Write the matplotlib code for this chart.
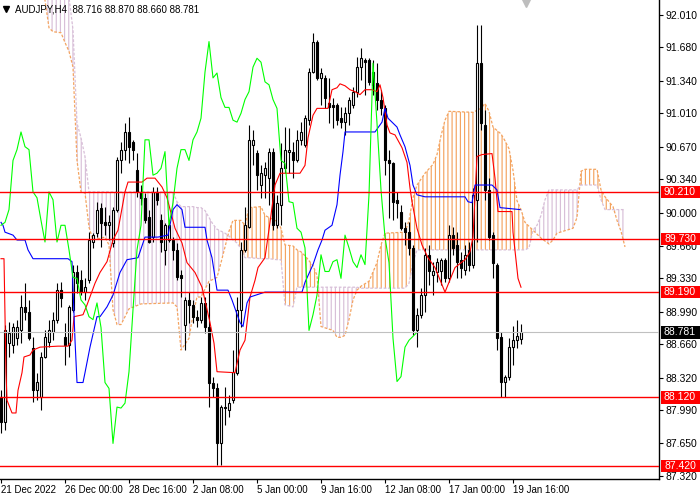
import matplotlib
matplotlib.use("Agg")
import matplotlib.pyplot as plt
import numpy as np
from matplotlib import transforms
from matplotlib.patches import Rectangle

plt.rcParams['font.family'] = ['Liberation Sans', 'DejaVu Sans']
plt.rcParams['hatch.linewidth'] = 0.85

title_text = "AUDJPY,H4  88.716 88.870 88.660 88.781"

opens = [88.12, 87.87, 88.67, 88.65, 88.72, 88.80, 89.04, 88.99, 88.62, 88.19,
         88.12, 88.53, 88.68, 88.78, 88.91, 89.21, 88.73, 88.65, 89.01, 89.39,
         89.31, 89.19, 89.31, 89.70, 89.79, 90.05, 89.90, 89.87, 89.69, 90.03,
         90.53, 90.64, 90.82, 90.72, 90.43, 90.21, 90.15, 89.95, 89.75, 90.21,
         89.92, 89.62, 89.72, 89.72, 89.62, 89.36, 88.86, 89.11, 89.06, 88.94,
         88.91, 89.08, 88.84, 88.27, 88.21, 87.65, 88.02, 87.99, 88.09, 88.37,
         89.01, 89.62, 89.85, 90.69, 90.61, 90.28, 90.38, 90.35, 90.62, 89.87,
         90.08, 90.45, 90.62, 90.62, 90.53, 90.74, 90.69, 90.94, 91.43, 91.74,
         91.37, 91.37, 91.11, 91.09, 91.09, 90.96, 90.92, 91.01, 91.09, 91.23,
         91.48, 91.55, 91.55, 91.43, 91.32, 91.15, 91.06, 90.53, 90.50, 90.13,
         90.01, 89.84, 89.80, 89.64, 88.80, 88.96, 89.16, 89.57, 89.36, 89.39,
         89.40, 89.52, 89.33, 89.77, 89.67, 89.52, 89.42, 89.62, 89.47, 90.13,
         91.52, 90.89, 90.23, 89.77, 89.47, 88.73, 88.28, 88.33, 88.63, 88.70,
         88.716]
highs = [88.19, 88.86, 88.89, 88.88, 88.91, 89.16, 89.28, 89.11, 88.73, 88.37,
         88.58, 88.80, 88.91, 88.99, 89.28, 89.29, 88.88, 89.06, 89.47, 89.47,
         89.42, 89.33, 89.80, 89.79, 90.11, 90.10, 90.06, 89.97, 90.06, 90.57,
         90.72, 90.91, 90.97, 90.74, 90.61, 90.28, 90.20, 90.03, 90.26, 90.26,
         89.99, 89.89, 89.92, 89.75, 89.69, 89.42, 89.14, 89.19, 89.11, 89.01,
         89.14, 89.14, 89.28, 88.33, 88.27, 88.04, 88.22, 88.14, 88.60, 89.14,
         89.70, 90.06, 90.89, 90.84, 90.64, 90.48, 90.51, 90.66, 90.66, 90.18,
         90.71, 90.87, 90.86, 90.72, 90.84, 90.92, 90.99, 91.47, 91.83, 91.76,
         91.47, 91.40, 91.37, 91.17, 91.11, 91.07, 91.07, 91.18, 91.28, 91.58,
         91.67, 91.57, 91.57, 91.55, 91.52, 91.25, 91.09, 90.64, 90.51, 90.21,
         90.08, 89.90, 89.90, 89.67, 89.03, 89.23, 89.64, 89.67, 89.50, 89.54,
         89.54, 89.54, 89.87, 89.85, 89.80, 89.60, 89.67, 89.70, 90.25, 91.91,
         91.91, 91.04, 90.35, 89.80, 89.49, 88.78, 88.35, 88.72, 88.85, 88.91,
         88.870]
lows = [87.76, 87.79, 88.53, 88.57, 88.65, 88.67, 88.91, 88.70, 88.07, 88.09,
        87.99, 88.52, 88.63, 88.70, 88.88, 89.04, 88.45, 88.53, 88.99, 89.18,
        89.16, 89.11, 89.28, 89.64, 89.75, 89.65, 89.77, 89.72, 89.65, 90.01,
        90.40, 90.53, 90.50, 90.53, 90.16, 90.08, 89.89, 89.69, 89.70, 90.08,
        89.60, 89.47, 89.70, 89.52, 89.31, 89.14, 88.60, 88.88, 88.88, 88.84,
        88.88, 88.77, 88.02, 88.12, 87.43, 87.43, 87.84, 87.92, 88.06, 88.35,
        88.84, 89.60, 89.84, 90.48, 90.23, 90.15, 90.15, 90.08, 89.82, 89.84,
        89.87, 90.40, 90.40, 90.35, 90.51, 90.69, 90.67, 90.89, 91.42, 91.35,
        91.09, 91.06, 90.91, 90.86, 90.89, 90.86, 90.79, 90.89, 91.06, 91.18,
        91.35, 91.20, 91.30, 91.20, 91.04, 90.99, 90.38, 89.94, 89.92, 89.94,
        89.82, 89.67, 89.57, 88.75, 88.63, 88.93, 88.99, 89.26, 89.16, 89.29,
        89.26, 89.29, 89.29, 89.57, 89.33, 89.33, 89.36, 89.40, 89.44, 89.70,
        90.84, 90.13, 89.72, 89.33, 88.60, 88.12, 88.12, 88.30, 88.45, 88.62,
        88.660]
closes = [87.87, 88.80, 88.77, 88.83, 88.83, 89.04, 88.99, 88.72, 88.19, 88.28,
          88.53, 88.73, 88.80, 88.91, 89.21, 89.13, 88.65, 89.04, 89.39, 89.28,
          89.19, 89.24, 89.72, 89.77, 90.03, 89.89, 89.87, 89.90, 90.03, 90.53,
          90.64, 90.82, 90.67, 90.64, 90.21, 90.15, 89.92, 89.70, 90.21, 90.13,
          89.70, 89.87, 89.87, 89.62, 89.34, 89.33, 89.11, 89.06, 88.94, 88.91,
          89.08, 88.83, 88.27, 88.21, 87.65, 88.02, 88.01, 88.06, 88.38, 89.01,
          89.62, 89.87, 90.74, 90.74, 90.38, 90.40, 90.45, 90.62, 89.87, 90.10,
          90.45, 90.64, 90.64, 90.53, 90.74, 90.82, 90.96, 91.43, 91.74, 91.37,
          91.42, 91.17, 91.07, 91.07, 90.94, 90.92, 91.01, 91.15, 91.23, 91.48,
          91.57, 91.53, 91.33, 91.30, 91.15, 91.06, 90.53, 90.50, 90.11, 90.10,
          89.84, 89.80, 89.64, 88.80, 88.96, 89.16, 89.57, 89.40, 89.40, 89.50,
          89.52, 89.33, 89.77, 89.64, 89.50, 89.44, 89.57, 89.47, 90.18, 91.52,
          90.91, 90.23, 89.75, 89.49, 88.72, 88.28, 88.33, 88.63, 88.70, 88.74,
          88.781]

tenkan_bar = [0, 0.75, 1.25, 1.5, 2.75, 3.75, 4.25, 5.25, 5.75, 7.25, 8, 9.75, 14.25, 16.75,
              17.75, 18.25, 20.5, 21.5, 23.5, 24.75, 26.5, 28, 29.25, 31, 31.75, 35.25, 36.5,
              38.5, 40.25, 41.5, 43.5, 45.25, 46.5, 48.5, 50.25, 52.25, 53.25, 54, 58.5, 59.75,
              61, 62.25, 63.5, 64.25, 66, 67.25, 68.5, 69.75, 74.75, 76, 76.75, 78, 79, 81.75,
              82.75, 84, 84.75, 86, 87.25, 88.5, 89.75, 91, 92.75, 94, 94.75, 95.5, 96.5, 97.25,
              98.5, 100.25, 101.5, 102.25, 102.75, 104, 105.25, 106.75, 108.5, 111, 113.5, 116,
              117.25, 118, 119, 120.25, 122.75, 123.5, 124.25, 127.75, 128, 129.25, 130]
tenkan_val = [89.53, 89.53, 88.37, 88.09, 87.96, 87.96, 88.19, 88.37, 88.53, 88.55, 88.60, 88.63,
              88.64, 88.64, 88.70, 88.94, 88.96, 89.06, 89.28, 89.39, 89.50, 89.72, 89.82, 90.21,
              90.31, 90.31, 90.35, 90.35, 90.26, 90.15, 89.84, 89.69, 89.49, 89.39, 89.24, 88.88,
              88.67, 88.38, 88.37, 88.60, 88.70, 89.14, 89.31, 89.44, 89.54, 89.90, 90.28, 90.40,
              90.40, 90.48, 90.76, 90.99, 91.06, 91.06, 91.25, 91.27, 91.31, 91.29, 91.25, 91.23,
              91.20, 91.25, 91.25, 91.23, 91.30, 91.17, 90.89, 90.81, 90.79, 90.66, 90.51, 90.25,
              90.11, 89.84, 89.67, 89.54, 89.44, 89.19, 89.44, 89.52, 89.60, 89.75, 90.57, 90.59,
              90.60, 90.35, 90.01, 90.01, 89.80, 89.33, 89.24]

kijun_bar = [0, 0.5, 1, 3, 4, 6, 6.75, 8, 16.75, 17.75, 18.5, 19, 20.5, 21, 22.25, 24, 24.75,
             26.5, 28, 29.75, 31.5, 34.25, 36, 39.25, 41.75, 43, 44, 45.25, 46, 51, 51.5, 52.75,
             53.5, 54, 56.75, 57.75, 59.75, 60.5, 61.5, 62.25, 66, 75.25, 76, 78, 79.25, 80.25,
             81, 82.75, 84, 84.75, 85.5, 86, 93.5, 95.25, 96, 96.75, 99, 99.75, 101, 102.25, 103,
             104, 106, 116, 116.75, 117.75, 118.5, 122.75, 124, 124.75, 129.75]
kijun_val = [89.90, 89.87, 89.80, 89.77, 89.72, 89.72, 89.62, 89.53, 89.53, 89.50, 88.70, 88.27,
             88.27, 88.37, 88.63, 88.94, 88.94, 89.04, 89.16, 89.39, 89.52, 89.54, 89.75, 89.75,
             89.77, 90.03, 90.08, 90.03, 89.85, 89.85, 89.72, 89.54, 89.34, 89.21, 89.21, 89.11,
             88.88, 88.84, 89.08, 89.14, 89.19, 89.19, 89.29, 89.47, 89.62, 89.72, 89.82, 89.87,
             90.08, 90.38, 90.62, 90.82, 90.82, 90.92, 91.06, 90.96, 90.87, 90.79, 90.67, 90.48,
             90.28, 90.18, 90.16, 90.16, 90.11, 90.10, 90.28, 90.28, 90.23, 90.05, 90.03]

span_bar = [0, 10, 11, 12, 13, 15, 16, 17, 18, 19,
            20, 21, 22, 23, 26, 27, 28, 29, 30, 32,
            35, 43, 44, 45, 47, 48, 49, 50, 51, 52,
            53, 54, 55, 56, 57, 58, 59, 60, 61, 62,
            65, 66, 67, 69, 70, 71, 73, 74, 75, 76,
            78, 79, 80, 83, 84, 85, 86, 87, 88, 89,
            90, 92, 94, 95, 96, 101, 102, 103, 104, 106,
            108, 109, 110, 111, 112, 118, 120, 121, 122, 123,
            125, 126, 127, 128, 129, 130, 131, 132, 133, 134,
            135, 136, 137, 138, 139, 143, 144, 145, 146, 149,
            150, 151, 153, 154, 155, 156]
span_a = [92.77, 92.27, 92.16, 91.88, 91.84, 91.83, 91.73, 91.64, 91.48, 90.53,
          90.21, 90.20, 89.85, 89.72, 89.75, 89.67, 89.01, 88.86, 88.86, 89.02,
          89.07, 89.08, 89.04, 88.60, 88.72, 88.96, 89.14, 89.14, 89.22, 89.30,
          89.32, 89.34, 89.49, 89.65, 89.81, 89.92, 89.92, 89.92, 89.87, 90.05,
          90.06, 89.97, 89.95, 89.91, 89.84, 89.67, 89.66, 89.62, 89.60, 89.56,
          89.46, 89.36, 88.84, 88.80, 88.73, 88.73, 88.75, 88.91, 89.11, 89.21,
          89.25, 89.30, 89.49, 89.67, 89.79, 89.80, 89.92, 90.15, 90.28, 90.40,
          90.49, 90.59, 90.78, 90.94, 91.03, 91.02, 91.06, 91.11, 91.03, 90.87,
          90.80, 90.73, 90.65, 90.43, 90.12, 90.03, 89.90, 89.86, 89.82, 89.78,
          89.74, 89.71, 89.68, 89.72, 89.79, 89.84, 89.95, 90.42, 90.44, 90.44,
          90.23, 90.16, 90.06, 89.92, 89.81, 89.65]
span_b = [92.98, 92.63, 92.60, 92.56, 92.53, 92.44, 92.32, 92.19, 91.86, 90.91,
          90.76, 90.57, 90.21, 90.21, 90.21, 90.21, 90.21, 90.21, 90.21, 90.21,
          90.21, 90.21, 90.11, 90.06, 90.06, 90.06, 90.05, 90.05, 90.02, 89.95,
          89.88, 89.83, 89.81, 89.79, 89.76, 89.72, 89.69, 89.63, 89.54, 89.54,
          89.53, 89.53, 89.53, 89.52, 89.52, 89.06, 89.04, 89.24, 89.24, 89.24,
          89.24, 89.24, 89.24, 89.24, 89.24, 89.24, 89.24, 89.24, 89.24, 89.24,
          89.23, 89.23, 89.23, 89.23, 89.23, 89.23, 89.28, 89.49, 89.62, 89.62,
          89.62, 89.62, 89.62, 89.62, 89.62, 89.62, 89.62, 89.62, 89.62, 89.62,
          89.62, 89.62, 89.62, 89.62, 89.62, 89.62, 89.62, 89.64, 89.82, 89.87,
          89.97, 90.13, 90.23, 90.23, 90.23, 90.23, 90.23, 90.28, 90.28, 90.28,
          90.13, 90.03, 90.03, 90.03, 90.03, 90.03]
chikou_shift = 26

levels = [90.210, 89.730, 89.190, 88.120, 87.420]
last_price = 88.781
ytick_vals = [92.010, 91.680, 91.340, 91.010, 90.670, 90.340, 90.000, 89.660, 89.330,
              88.990, 88.660, 88.320, 87.990, 87.650, 87.320]
xtick_bars = [0, 16, 32, 48, 64, 80, 96, 112, 128]
xtick_labels = ["21 Dec 2022", "26 Dec 00:00", "28 Dec 16:00", "2 Jan 08:00", "5 Jan 00:00",
                "9 Jan 16:00", "12 Jan 08:00", "17 Jan 00:00", "19 Jan 16:00"]

# ---------------------------------------------------------------
FW, FH = 700, 500
fig = plt.figure(figsize=(7, 5), dpi=100)
ax = fig.add_axes([0, 21 / FH, 659 / FW, 479 / FH])
ax.set_xlim(-0.25, 164.5)
ax.set_ylim(87.288, 92.163)

o = np.array(opens); h = np.array(highs); l = np.array(lows); c = np.array(closes)
x = np.arange(len(o))

# Kumo cloud
sx = np.array(span_bar); sa = np.array(span_a); sb = np.array(span_b)
ax.fill_between(sx, sa, sb, where=sa >= sb, interpolate=True, facecolor='none',
                edgecolor='#F4A460', hatch='||||', linewidth=0, zorder=1)
ax.fill_between(sx, sa, sb, where=sa < sb, interpolate=True, facecolor='none',
                edgecolor='#D8BFD8', hatch='||||', linewidth=0, zorder=1)
ax.plot(sx, sa, color='#F4A460', lw=0.9, ls=(0, (2.2, 1.4)), zorder=1.5)
ax.plot(sx, sb, color='#D8BFD8', lw=0.9, ls=(0, (2.2, 1.4)), zorder=1.5)

# candles
ax.vlines(x, l, h, color='black', lw=0.8, zorder=2)
up = c >= o
ax.bar(x[up], (c - o)[up], bottom=o[up], width=0.55, color='white',
       edgecolor='black', linewidth=0.8, zorder=2.5)
ax.bar(x[~up], (o - c)[~up], bottom=c[~up], width=0.55, color='black',
       edgecolor='black', linewidth=0.8, zorder=2.5)

# Ichimoku lines
ax.plot(tenkan_bar, tenkan_val, color='#FF0000', lw=0.8, zorder=3)
ax.plot(kijun_bar, kijun_val, color='#0000FF', lw=0.8, zorder=3)
ax.plot(x[:len(c) - chikou_shift], c[chikou_shift:], color='#00FF00', lw=0.8, zorder=3)

# horizontal levels
ax.axhline(last_price, color='#C0C0C0', lw=0.8, zorder=3.5)
for lv in levels:
    ax.axhline(lv, color='#FF0000', lw=1.0, zorder=4)

# axes styling
for s in ['left', 'top']:
    ax.spines[s].set_visible(False)
for s in ['right', 'bottom']:
    ax.spines[s].set_color('black')
    ax.spines[s].set_linewidth(1.0)
ax.yaxis.tick_right()
ax.set_yticks(ytick_vals)
ax.set_yticklabels([f"{v:.3f}" for v in ytick_vals])
ax.set_xticks(xtick_bars)
ax.set_xticklabels(xtick_labels, ha='left')
ax.tick_params(axis='y', direction='out', length=3, width=0.8, pad=2, labelsize=7.5,
               colors='black')
ax.tick_params(axis='x', direction='out', length=3, width=0.8, pad=1.5, labelsize=7,
               colors='black')
for lab in ax.get_xticklabels():
    lab.set_horizontalalignment('left')

# price boxes on the right
trans = transforms.blended_transform_factory(fig.transFigure, ax.transData)
box_h = 12.5 / 98.26
for lv, fc in [(v, '#FF0000') for v in levels] + [(last_price, 'black')]:
    ax.add_patch(Rectangle((661 / FW, lv - box_h / 2), 39 / FW, box_h, transform=trans,
                           facecolor=fc, edgecolor='none', clip_on=False, zorder=10))
    ax.text(680 / FW, lv, f"{lv:.3f}", transform=trans, color='white', ha='center',
            va='center', fontsize=7.5, zorder=11, clip_on=False)

# title and markers
fig.text(15 / FW, 1 - 9 / FH, title_text, fontsize=7, ha='left', va='center', color='black')
fig.lines.append(plt.Line2D([5.5 / FW], [1 - 8.5 / FH], marker='v', markersize=4.5,
                            color='black', transform=fig.transFigure))
fig.lines.append(plt.Line2D([525.5 / FW], [1 - 0.5 / FH], marker='v', markersize=9,
                            color='#BEBEBE', transform=fig.transFigure))

fig.savefig('out.png', dpi=100)
